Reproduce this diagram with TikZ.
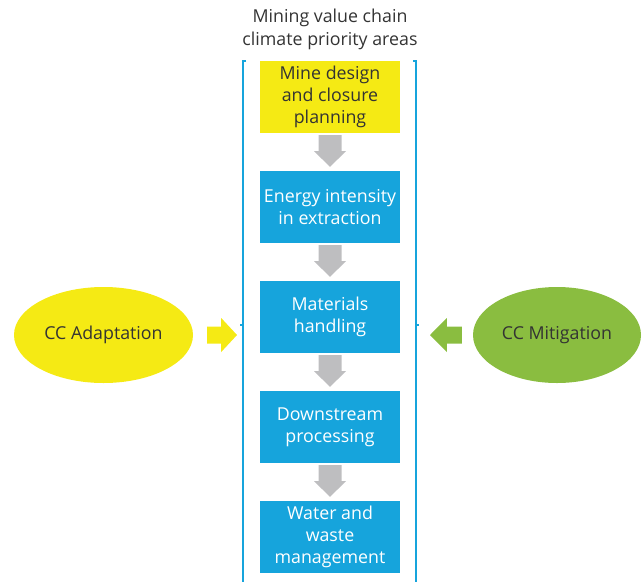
\documentclass[tikz,border=0pt]{standalone}
\usepackage{fontspec}
\setmainfont{Open Sans}
\usetikzlibrary{calc,shapes.geometric}
\definecolor{cyel}{HTML}{F5EA14}
\definecolor{cblue}{HTML}{16A4DC}
\definecolor{cgreen}{HTML}{8ABD40}
\definecolor{cgray}{HTML}{BEBEC0}
\definecolor{ctext}{HTML}{333333}
\tikzset{
  stagebox/.style={minimum width=140pt, minimum height=72pt, inner sep=0pt, align=center,
    font=\fontsize{17.8}{22}\selectfont, text=white, fill=cblue},
  ccell/.style={ellipse, inner sep=0pt, font=\fontsize{17.8}{20}\selectfont, text=ctext},
  bracketline/.style={draw=cblue, line width=1.8pt},
  flowarrow/.style={fill=cgray},
}
\begin{document}
\begin{tikzpicture}[x=1pt,y=-1pt]
\useasboundingbox (0,0) rectangle (644,581);
\node[align=center, font=\fontsize{17.8}{23}\selectfont, text=ctext] (title) at (330,29) {Mining value chain\\climate priority areas};
\node[stagebox, fill=cyel, text=ctext] (s1) at (330,97) {Mine design\\and closure\\planning};
\node[stagebox] (s2) at (330,207) {Energy intensity\\in extraction};
\node[stagebox] (s3) at (330,317) {Materials\\handling};
\node[stagebox] (s4) at (330,427) {Downstream\\processing};
\node[stagebox] (s5) at (330,537) {Water and\\waste\\management};
% bracket
\coordinate (bl) at (243,325);
\coordinate (br) at (416,325);
\draw[bracketline] (246,61) -- (243,61) -- (243,585);
\draw[bracketline] (413,61) -- (416,61) -- (416,585);
\draw[bracketline] (bl) -- ++(-3,0);
\draw[bracketline] (br) -- ++(3,0);
% ellipses
\node[ccell, fill=cyel, minimum width=179pt, minimum height=96pt] (ad) at (103.5,335) {CC Adaptation};
\node[ccell, fill=cgreen, minimum width=168pt, minimum height=96pt] (mi) at (557,335) {CC Mitigation};
% down arrows
\foreach \a/\b in {s1/s2,s2/s3,s3/s4,s4/s5}{
  \fill[flowarrow] ($(\a.south)+(-11.5,2)$) -- ($(\a.south)+(11.5,2)$) -- ($(\a.south)+(11.5,18)$)
    -- ($(\a.south)+(16,18)$) -- ($(\b.north)+(0,-4)$) -- ($(\a.south)+(-16,18)$)
    -- ($(\a.south)+(-11.5,18)$) -- cycle;
}
% side arrows
\fill[cyel] ($(ad.east)+(14,-8.5)$) -- ($(ad.east)+(28,-8.5)$) -- ($(ad.east)+(28,-17)$)
  -- ($(bl)+(-6,10)$) -- ($(ad.east)+(28,17)$) -- ($(ad.east)+(28,8.5)$) -- ($(ad.east)+(14,8.5)$) -- cycle;
\fill[cgreen] ($(mi.west)+(-11,-8.5)$) -- ($(mi.west)+(-26,-8.5)$) -- ($(mi.west)+(-26,-17)$)
  -- ($(br)+(14,10)$) -- ($(mi.west)+(-26,17)$) -- ($(mi.west)+(-26,8.5)$) -- ($(mi.west)+(-11,8.5)$) -- cycle;
\end{tikzpicture}
\end{document}
